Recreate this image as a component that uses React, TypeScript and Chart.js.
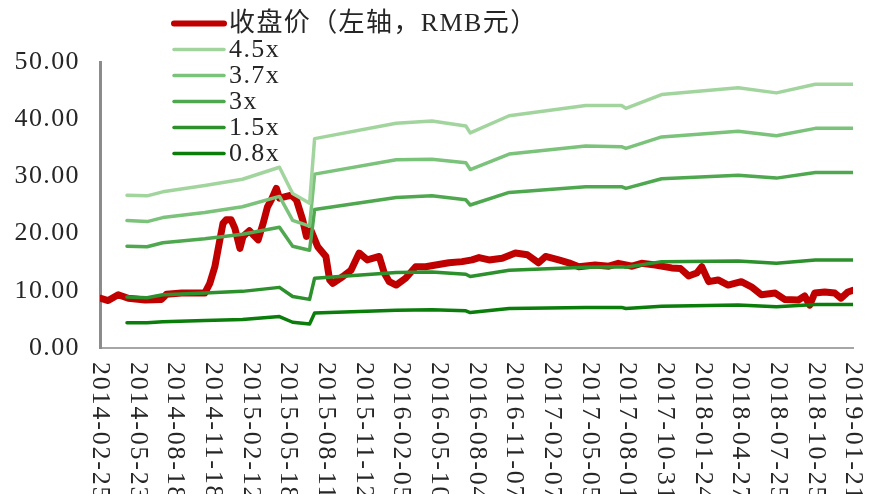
import React, { useEffect, useRef } from "react";
import { Chart, registerables } from "chart.js";

Chart.register(...registerables);

// Tick labels (one every 60 trading days)
const dateLabels = [
  "2014-02-25", "2014-05-23", "2014-08-18", "2014-11-18", "2015-02-12",
  "2015-05-18", "2015-08-11", "2015-11-12", "2016-02-05", "2016-05-10",
  "2016-08-04", "2016-11-07", "2017-02-07", "2017-05-05", "2017-08-01",
  "2017-10-31", "2018-01-24", "2018-04-27", "2018-07-25", "2018-10-25",
  "2019-01-21",
];
const labelStep = 60;
const lastIndex = 1200;

// PE band break points (trading-day index) and values
const bandIdx = [43, 75, 100, 167, 227, 286, 307, 334, 342, 472, 529, 583, 590, 652, 774, 831, 838, 895, 1017, 1078, 1140, 1200];
const band45 = [26.7, 26.6, 27.3, 28.4, 29.5, 31.6, 27.0, 25.3, 36.6, 39.3, 39.7, 38.8, 37.6, 40.6, 42.4, 42.4, 41.9, 44.3, 45.5, 44.6, 46.1, 46.1];
const band37 = [22.3, 22.1, 22.8, 23.7, 24.7, 26.5, 22.3, 21.3, 30.4, 32.9, 33.0, 32.4, 31.2, 33.9, 35.3, 35.2, 34.9, 36.9, 37.9, 37.1, 38.4, 38.4];
const band30 = [17.8, 17.7, 18.4, 19.1, 19.9, 21.1, 17.8, 17.1, 24.2, 26.3, 26.6, 25.9, 25.0, 27.2, 28.2, 28.2, 27.9, 29.6, 30.2, 29.7, 30.7, 30.7];
const band15 = [8.9, 8.8, 9.3, 9.6, 9.9, 10.6, 9.0, 8.5, 12.2, 13.2, 13.3, 12.9, 12.5, 13.6, 14.1, 14.2, 14.1, 15.1, 15.2, 14.8, 15.4, 15.4];
const band08 = [4.4, 4.4, 4.6, 4.8, 5.0, 5.5, 4.5, 4.2, 6.1, 6.6, 6.7, 6.5, 6.2, 6.9, 7.1, 7.1, 6.9, 7.3, 7.5, 7.2, 7.6, 7.6];

// Closing price (trading-day index, RMB)
const priceIdx = [
  0, 13, 29, 45, 72, 98, 106, 130, 151, 167, 175, 183, 191, 196, 201, 209, 215, 223, 228, 238,
  252, 260, 267, 273, 281, 286, 297, 305, 313, 323, 329, 336, 347, 360, 366, 371, 387, 400, 413, 426,
  445, 453, 461, 472, 487, 503, 519, 535, 556, 577, 593, 604, 620, 641, 662, 681, 699, 710, 731, 747,
  763, 789, 811, 826, 848, 863, 885, 906, 911, 925, 938, 951, 959, 970, 985, 1001, 1022, 1038, 1054, 1076,
  1091, 1113, 1123, 1131, 1139, 1155, 1171, 1181, 1192, 1200,
];
const priceVal = [
  8.7, 8.3, 9.3, 8.7, 8.4, 8.5, 9.4, 9.6, 9.6, 9.6, 11.3, 14.2, 18.9, 21.8, 22.4, 22.4, 20.9, 17.4, 19.5, 20.5,
  18.9, 21.8, 24.7, 25.9, 27.9, 26.2, 26.5, 26.7, 25.9, 22.4, 19.5, 20.6, 17.7, 16.0, 11.9, 11.3, 12.5, 13.6, 16.6, 15.4,
  16.0, 13.1, 11.6, 11.0, 12.2, 14.2, 14.2, 14.5, 14.9, 15.1, 15.4, 15.8, 15.4, 15.7, 16.6, 16.3, 14.9, 16.0, 15.4, 14.9,
  14.2, 14.5, 14.3, 14.8, 14.3, 14.8, 14.5, 14.1, 14.0, 13.9, 12.6, 13.1, 14.2, 11.6, 11.9, 11.0, 11.6, 10.7, 9.3, 9.6,
  8.5, 8.4, 9.1, 7.5, 9.6, 9.8, 9.6, 8.7, 9.8, 10.1,
];

const priceLabel = "收盘价（左轴，RMB元）";
const bandLabels = ["4.5x", "3.7x", "3x", "1.5x", "0.8x"];
const bandValues = [band45, band37, band30, band15, band08];
const bandColors = ["#A2D59E", "#7BC27A", "#4FA84F", "#2C902C", "#0A7D0A"];
const priceColor = "#C00000";

const FONT = '"Liberation Serif", "Noto Sans CJK SC", serif';
const TEXT = "#262626";

export default function App() {
  const ref = useRef<HTMLCanvasElement>(null);

  useEffect(() => {
    const canvas = ref.current;
    if (!canvas) return;

    const drawPlugin = {
      id: "customDraw",
      beforeDraw(chart: any) {
        (chart.ctx as any).letterSpacing = "1.4px";
      },
      afterDraw(chart: any) {
        const ctx = chart.ctx as CanvasRenderingContext2D;
        const xs = chart.scales.x;
        ctx.save();
        (ctx as any).letterSpacing = "1.8px";
        ctx.font = `26px ${FONT}`;
        ctx.fillStyle = TEXT;
        ctx.textAlign = "left";
        ctx.textBaseline = "middle";
        dateLabels.forEach((lab, i) => {
          const px = xs.getPixelForValue(i * labelStep);
          ctx.save();
          ctx.translate(px, chart.chartArea.bottom + 14);
          ctx.rotate(Math.PI / 2);
          ctx.fillText(lab, 0, 0);
          ctx.restore();
        });

        // legend
        (ctx as any).letterSpacing = "1.4px";
        const items = [
          { label: priceLabel, color: priceColor, width: 6 },
          ...bandLabels.map((l, i) => ({ label: l, color: bandColors[i], width: 3.5 })),
        ];
        const x1 = 174, x2 = 224, tx = 229, y0 = 23.5, dy = 26;
        items.forEach((it, i) => {
          const y = y0 + i * dy;
          ctx.beginPath();
          ctx.lineCap = "round";
          ctx.strokeStyle = it.color;
          ctx.lineWidth = it.width;
          ctx.moveTo(x1, y);
          ctx.lineTo(x2, y);
          ctx.stroke();
          ctx.fillStyle = TEXT;
          ctx.textBaseline = "middle";
          ctx.fillText(it.label, tx, y + 1);
        });
        ctx.restore();
      },
    };

    const datasets: any[] = bandLabels.map((l, b) => ({
      label: l,
      data: bandIdx.map((x, i) => ({ x, y: bandValues[b][i] })),
      borderColor: bandColors[b],
      borderWidth: 3.5,
      borderCapStyle: "round",
      borderJoinStyle: "round",
      pointRadius: 0,
      tension: 0,
      fill: false,
    }));
    datasets.push({
      label: priceLabel,
      data: priceIdx.map((x, i) => ({ x, y: priceVal[i] })),
      borderColor: priceColor,
      borderWidth: 7,
      borderCapStyle: "round",
      borderJoinStyle: "round",
      pointRadius: 0,
      tension: 0,
      fill: false,
    });

    const chart = new Chart(canvas, {
      type: "line",
      data: { datasets },
      options: {
        responsive: false,
        animation: false,
        layout: { padding: { top: 62, right: 28, left: 0, bottom: 0 } },
        plugins: { legend: { display: false }, tooltip: { enabled: false } },
        scales: {
          x: {
            type: "linear",
            min: 0,
            max: lastIndex,
            grid: { display: false, drawTicks: false },
            border: { display: true, color: "#A6A6A6", width: 2 },
            ticks: { display: false, stepSize: labelStep },
            afterFit(s: any) {
              s.height = 146;
            },
          },
          y: {
            min: 0,
            max: 50,
            grid: { display: false, drawTicks: false },
            border: { display: true, color: "#8C8C8C", width: 3 },
            ticks: {
              stepSize: 10,
              padding: 20,
              color: TEXT,
              font: { family: FONT, size: 26 },
              callback: (v: any) => Number(v).toFixed(2),
            },
            afterFit(s: any) {
              s.width = 100;
            },
          },
        },
      } as any,
      plugins: [drawPlugin],
    });

    return () => chart.destroy();
  }, []);

  return (
    <div style={{ position: "fixed", left: 0, top: 0, width: 881, height: 494, background: "#fff" }}>
      <canvas ref={ref} width={881} height={494} style={{ width: 881, height: 494 }} />
    </div>
  );
}
